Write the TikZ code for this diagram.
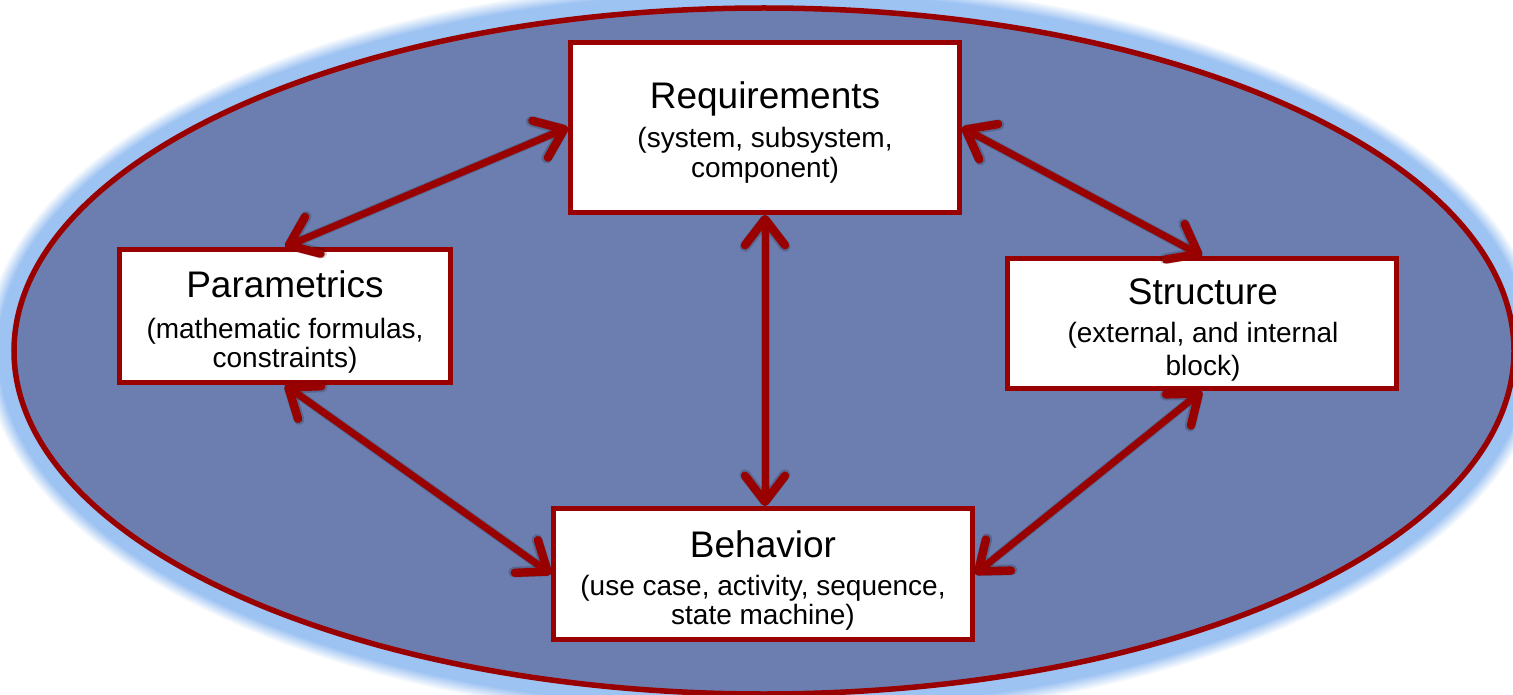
\documentclass[tikz,border=0pt]{standalone}
\usepackage{fontspec}
\setmainfont{Liberation Sans}
\usetikzlibrary{arrows.meta}
\definecolor{ovalfill}{HTML}{6C7EAF}
\definecolor{darkred}{HTML}{990000}
\definecolor{glowblue}{HTML}{9DC3F3}
\tikzset{
  block/.style={draw=darkred, line width=5pt, fill=white, inner sep=0pt, rectangle},
  title/.style={anchor=base, font=\fontsize{37}{44}\selectfont, inner sep=0pt},
  sub/.style={anchor=base, font=\fontsize{28}{32}\selectfont, inner sep=0pt},
  barb/.tip={Straight Barb[length=26pt,width=40pt,line width=0pt 1.2,line cap=round,line join=round]},
  link/.style={draw=darkred, line width=7pt, barb-barb},
  linkshadow/.style={draw=black, opacity=0.18, line width=9pt, barb-barb, shift={(3pt,-4pt)}},
}
\begin{document}
\begin{tikzpicture}[x=1pt,y=-1pt]
\useasboundingbox (0,0) rectangle (1513,695);
\fill[white] (0,0) rectangle (1513,695);
% soft halo around the oval
\foreach \k in {30,29,...,1}{
  \pgfmathsetmacro{\pct}{min(100,(30-\k)*100/14)}
  \fill[glowblue!\pct!white] (764,351) ellipse [x radius=750+\k, y radius=343+\k];
}
% the oval
\draw[darkred, line width=5.5pt, fill=ovalfill] (764,351) ellipse [x radius=750, y radius=343];

% blocks
\node[block, minimum width=389pt, minimum height=170pt] (req) at (765,127.5) {};
\node[block, minimum width=331pt, minimum height=133pt] (par) at (285,316) {};
\node[block, minimum width=389pt, minimum height=130pt] (str) at (1202,323.5) {};
\node[block, minimum width=419pt, minimum height=131pt] (beh) at (763,574) {};

% faint shadows under the links
\draw[linkshadow] (req.west) -- (par.north);
\draw[linkshadow] (req.east) -- (str.north);
\draw[linkshadow] (req.south) -- (req.south |- beh.north);
\draw[linkshadow] (par.south) -- (beh.west);
\draw[linkshadow] (str.south) -- (beh.east);

% block texts
\node[title] (reqT) at (765,109) {Requirements};
\node[sub] (reqS1) at (765,148) {(system, subsystem,};
\node[sub] (reqS2) at (765,178) {component)};

\node[title] (parT) at (285,298) {Parametrics};
\node[sub] (parS1) at (285,338) {(mathematic formulas,};
\node[sub] (parS2) at (285,367) {constraints)};

\node[title] (strT) at (1203,305) {Structure};
\node[sub] (strS1) at (1203,342) {(external, and internal};
\node[sub] (strS2) at (1203,375) {block)};

\node[title] (behT) at (763,557) {Behavior};
\node[sub] (behS1) at (763,595) {(use case, activity, sequence,};
\node[sub] (behS2) at (763,624) {state machine)};

% links between blocks
\draw[link] (req.west) -- (par.north);
\draw[link] (req.east) -- (str.north);
\draw[link] (req.south) -- (req.south |- beh.north);
\draw[link] (par.south) -- (beh.west);
\draw[link] (str.south) -- (beh.east);
\end{tikzpicture}
\end{document}
